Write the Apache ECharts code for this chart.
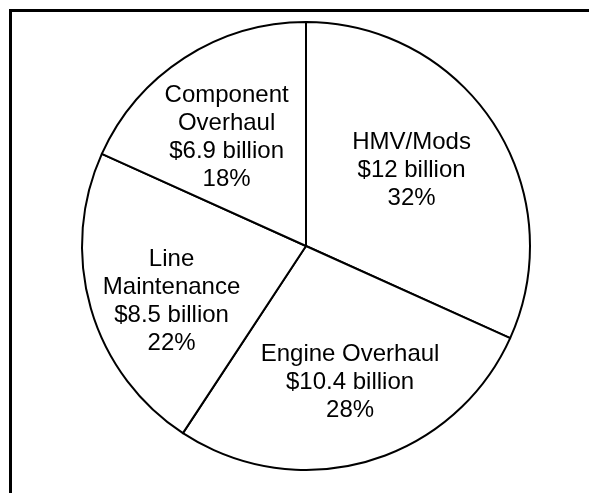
<!DOCTYPE html>
<html>
<head>
<meta charset="utf-8">
<script src="https://cdn.jsdelivr.net/npm/echarts@6/dist/echarts.min.js"></script>
<style>
html,body{margin:0;padding:0;background:#fff;}
#chart{width:589px;height:493px;}
</style>
</head>
<body>
<div id="chart"></div>
<script>
var categories = ['HMV/Mods', 'Engine Overhaul', 'Line\nMaintenance', 'Component\nOverhaul'];
var valuesBillion = [12, 10.4, 8.5, 6.9];
var percents = [32, 28, 22, 18];

// label nudges (px) away from the default inside anchor, per slice
var labelNudges = [[9, -13], [12, 26], [-24, 23], [-17, -12]];

var chart = echarts.init(document.getElementById('chart'), null, {renderer: 'canvas'});

var data = categories.map(function (c, i) {
  return {
    name: c,
    value: valuesBillion[i],
    pct: percents[i],
    label: {offset: labelNudges[i]}
  };
});

chart.setOption({
  animation: false,
  backgroundColor: '#fff',
  graphic: [{
    type: 'rect',
    shape: {x: 10.5, y: 10.5, width: 620, height: 520},
    style: {fill: null, stroke: '#000', lineWidth: 3},
    silent: true
  }],
  series: [{
    type: 'pie',
    center: [306, 246],
    radius: [0, 224],
    startAngle: 90,
    clockwise: true,
    silent: true,
    avoidLabelOverlap: false,
    labelLayout: {hideOverlap: false},
    data: data,
    itemStyle: {color: '#fff', borderColor: '#000', borderWidth: 2},
    label: {
      show: true,
      position: 'inside',
      color: '#000',
      fontFamily: 'Liberation Sans, Arial, sans-serif',
      fontSize: 24,
      lineHeight: 28,
      align: 'center',
      formatter: function (p) {
        return p.name + '\n$' + p.value + ' billion\n' + p.data.pct + '%';
      }
    },
    labelLine: {show: false},
    emphasis: {disabled: true}
  }]
});
</script>
</body>
</html>
